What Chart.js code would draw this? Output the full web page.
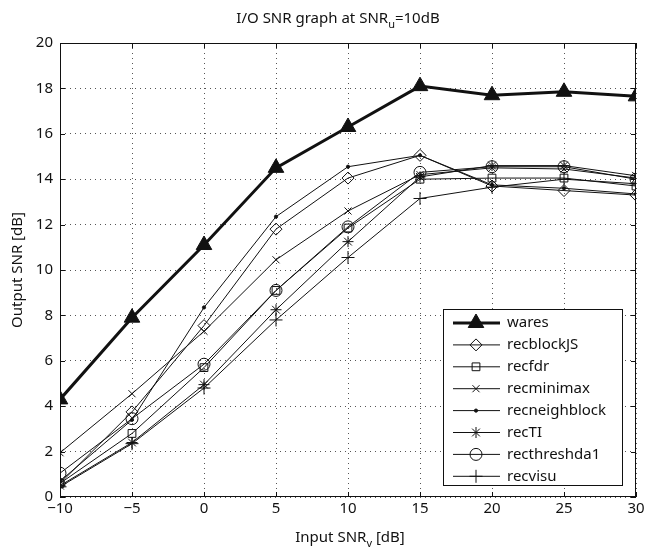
<!DOCTYPE html>
<html>
<head>
<meta charset="utf-8">
<script src="https://cdn.jsdelivr.net/npm/chart.js@4/dist/chart.umd.min.js"></script>
<style>
  html, body { margin: 0; padding: 0; background: #fff; }
  #wrap { width: 646px; height: 552px; }
</style>
</head>
<body>
<div id="wrap"><canvas id="snr"></canvas></div>
<script>
// input SNR (x) and output SNR per method (y), in dB
const inputSnr = [-10, -5, 0, 5, 10, 15, 20, 25, 30];
const wares = [4.3, 7.9, 11.1, 14.5, 16.3, 18.1, 17.7, 17.85, 17.65];
const recblockJS = [0.6, 3.75, 7.55, 11.8, 14.05, 15.05, 13.7, 13.5, 13.3];
const recfdr = [0.6, 2.8, 5.7, 9.1, 11.85, 14.0, 14.05, 14.05, 13.7];
const recminimax = [1.95, 4.55, 7.3, 10.45, 12.6, 14.2, 14.5, 14.45, 14.05];
const recneighblock = [0.7, 3.4, 8.35, 12.35, 14.55, 15.05, 13.75, 13.6, 13.35];
const recTI = [0.5, 2.4, 4.95, 8.25, 11.25, 14.1, 14.6, 14.6, 14.15];
const recthreshda1 = [1.05, 3.45, 5.85, 9.1, 11.9, 14.3, 14.55, 14.55, 14.0];
const recvisu = [0.45, 2.35, 4.8, 7.8, 10.55, 13.15, 13.65, 14.0, 13.8];

const xTicks = [-10, -5, 0, 5, 10, 15, 20, 25, 30];
const yTicks = [0, 2, 4, 6, 8, 10, 12, 14, 16, 18, 20];

const FONT = '"Noto Sans", "Open Sans", sans-serif';
const INK = '#111';

// marker look per series (matlab-ish)
const series = [
  { label: 'wares', data: wares, style: 'triangle', r: 9, fill: INK, width: 3 },
  { label: 'recblockJS', data: recblockJS, style: 'rectRot', r: 6, fill: 'rgba(0,0,0,0)', width: 1 },
  { label: 'recfdr', data: recfdr, style: 'rect', r: 5.5, fill: 'rgba(0,0,0,0)', width: 1 },
  { label: 'recminimax', data: recminimax, style: 'crossRot', r: 5, fill: 'rgba(0,0,0,0)', width: 1 },
  { label: 'recneighblock', data: recneighblock, style: 'circle', r: 1.6, fill: INK, width: 1 },
  { label: 'recTI', data: recTI, style: 'star', r: 5.5, fill: 'rgba(0,0,0,0)', width: 1 },
  { label: 'recthreshda1', data: recthreshda1, style: 'circle', r: 6, fill: 'rgba(0,0,0,0)', width: 1 },
  { label: 'recvisu', data: recvisu, style: 'cross', r: 6.5, fill: 'rgba(0,0,0,0)', width: 1 },
];

const datasets = series.map((s, i) => ({
  label: s.label,
  data: s.data.map((v, k) => ({ x: inputSnr[k], y: v })),
  borderColor: INK,
  backgroundColor: s.fill,
  borderWidth: s.width,
  pointStyle: s.style,
  pointRadius: s.r,
  pointBorderWidth: 1,
  pointBorderColor: INK,
  pointBackgroundColor: s.fill,
  pointHoverRadius: s.r,
  tension: 0,
  order: i === 0 ? 0 : 1,
}));

function minus(v) {
  return v < 0 ? '\u2212' + Math.abs(v) : String(v);
}

// text with a subscript part: [[text, isSub], ...]
function drawSubText(ctx, parts, cx, y, size) {
  const subSize = Math.round(size * 0.75);
  let total = 0;
  parts.forEach(p => {
    ctx.font = (p[1] ? subSize : size) + 'px ' + FONT;
    total += ctx.measureText(p[0]).width;
  });
  let x = cx - total / 2;
  ctx.textAlign = 'left';
  ctx.textBaseline = 'alphabetic';
  parts.forEach(p => {
    ctx.font = (p[1] ? subSize : size) + 'px ' + FONT;
    ctx.fillText(p[0], x, p[1] ? y + 5 : y);
    x += ctx.measureText(p[0]).width;
  });
}

function drawMarker(ctx, s, x, y) {
  ctx.save();
  ctx.fillStyle = s.fill;
  ctx.strokeStyle = INK;
  ctx.lineWidth = 1;
  Chart.helpers.drawPoint(ctx, { pointStyle: s.style, radius: s.r, rotation: 0, borderWidth: 1 }, x, y);
  ctx.restore();
}

const framePlugin = {
  id: 'frame',
  afterDraw(chart) {
    const ctx = chart.ctx;
    const a = chart.chartArea;
    const xs = chart.scales.x, ys = chart.scales.y;
    ctx.save();
    ctx.fillStyle = INK;
    ctx.strokeStyle = INK;

    // box
    ctx.lineWidth = 1;
    ctx.strokeRect(a.left + 0.5, a.top + 0.5, a.right - a.left - 1, a.bottom - a.top - 1);

    // inward ticks on all four sides
    const tl = 5;
    ctx.beginPath();
    xTicks.forEach(v => {
      const px = Math.round(xs.getPixelForValue(v)) + 0.5;
      ctx.moveTo(px, a.bottom); ctx.lineTo(px, a.bottom - tl);
      ctx.moveTo(px, a.top); ctx.lineTo(px, a.top + tl);
    });
    yTicks.forEach(v => {
      const py = Math.round(ys.getPixelForValue(v)) + 0.5;
      ctx.moveTo(a.left, py); ctx.lineTo(a.left + tl, py);
      ctx.moveTo(a.right, py); ctx.lineTo(a.right - tl, py);
    });
    ctx.stroke();

    // x tick labels
    ctx.font = '15px ' + FONT;
    ctx.textAlign = 'center';
    ctx.textBaseline = 'top';
    xTicks.forEach(v => {
      ctx.fillText(minus(v), xs.getPixelForValue(v), a.bottom + 4);
    });

    // title and axis titles
    drawSubText(ctx, [['I/O SNR graph at SNR', false], ['u', true], ['=10dB', false]], 338, 23, 15);
    drawSubText(ctx, [['Input SNR', false], ['v', true], [' [dB]', false]], 350, 542, 15);
    ctx.save();
    ctx.translate(22, (a.top + a.bottom) / 2);
    ctx.rotate(-Math.PI / 2);
    drawSubText(ctx, [['Output SNR [dB]', false]], 0, 0, 15);
    ctx.restore();

    // legend
    const lx = a.right - 193, ly = a.bottom - 188, lw = 179, lh = 176;
    ctx.fillStyle = '#fff';
    ctx.fillRect(lx, ly, lw, lh);
    ctx.lineWidth = 1;
    ctx.strokeStyle = INK;
    ctx.strokeRect(lx + 0.5, ly + 0.5, lw, lh);
    series.forEach((s, i) => {
      const ry = ly + 14 + i * 21.9;
      ctx.beginPath();
      ctx.lineWidth = s.width;
      ctx.moveTo(lx + 10, ry);
      ctx.lineTo(lx + 57, ry);
      ctx.stroke();
      drawMarker(ctx, s, lx + 33, ry);
      ctx.fillStyle = INK;
      ctx.font = '15px ' + FONT;
      ctx.textAlign = 'left';
      ctx.textBaseline = 'middle';
      ctx.fillText(s.label, lx + 64, ry);
    });
    ctx.restore();
  }
};

new Chart(document.getElementById('snr'), {
  type: 'line',
  data: { datasets },
  options: {
    responsive: true,
    maintainAspectRatio: false,
    animation: false,
    events: [],
    layout: { padding: { top: 43, right: 7, left: 0, bottom: 0 } },
    plugins: {
      legend: { display: false },
      title: { display: false },
      tooltip: { enabled: false },
    },
    scales: {
      x: {
        type: 'linear',
        min: -10,
        max: 30,
        afterBuildTicks(scale) { scale.ticks = xTicks.map(v => ({ value: v })); },
        afterFit(scale) { scale.height = 55; scale.paddingLeft = 0; scale.paddingRight = 0; },
        ticks: { display: false },
        grid: { color: '#555', lineWidth: 1, drawTicks: false },
        border: { display: false, dash: [1, 4] },
      },
      y: {
        type: 'linear',
        min: 0,
        max: 20,
        afterBuildTicks(scale) { scale.ticks = yTicks.map(v => ({ value: v })); },
        afterFit(scale) { scale.width = 60; scale.paddingTop = 0; scale.paddingBottom = 0; },
        ticks: {
          color: INK,
          font: { family: FONT, size: 15 },
          padding: 7,
          callback: v => minus(v),
        },
        grid: { color: '#555', lineWidth: 1, drawTicks: false },
        border: { display: false, dash: [1, 4] },
      },
    },
  },
  plugins: [framePlugin],
});
</script>
</body>
</html>
